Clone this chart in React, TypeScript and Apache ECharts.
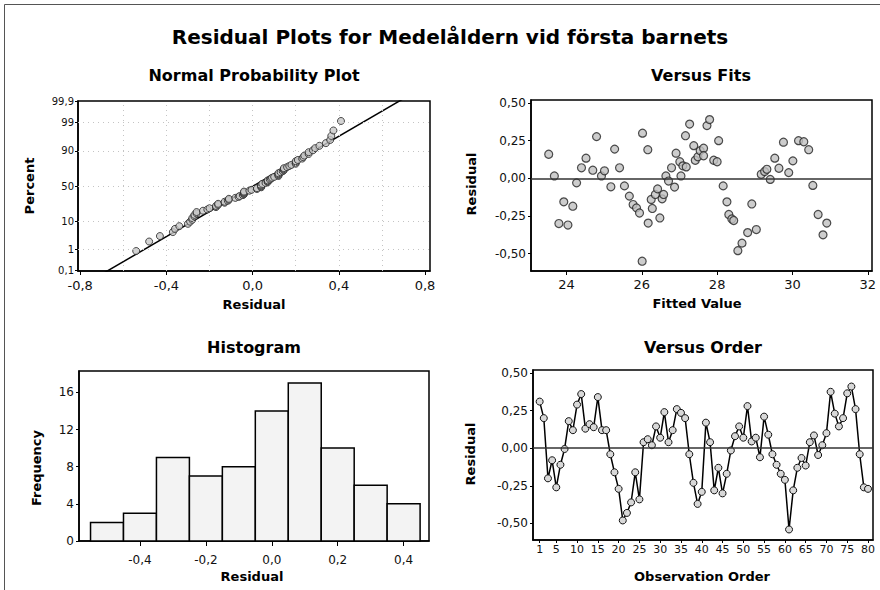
import React, { useEffect, useRef } from "react";
import * as echarts from "echarts";

// ---------- DATA ----------
const residualsByOrder: number[] = [
  0.31, 0.2, -0.2, -0.08, -0.26, -0.11, -0.005, 0.18, 0.12, 0.29,
  0.36, 0.13, 0.16, 0.14, 0.34, 0.12, 0.12, -0.04, -0.16, -0.27,
  -0.48, -0.43, -0.36, -0.16, -0.34, 0.04, 0.06, 0.02, 0.145, 0.07,
  0.24, 0.04, 0.12, 0.26, 0.235, 0.2, -0.04, -0.23, -0.37, -0.29,
  0.17, 0.04, -0.28, -0.13, -0.3, -0.17, -0.015, 0.08, 0.145, 0.07,
  0.28, 0.045, 0.07, -0.06, 0.21, 0.09, -0.04, -0.11, -0.17, -0.21,
  -0.54, -0.28, -0.13, -0.065, -0.115, 0.04, 0.085, -0.045, 0.02, 0.1,
  0.375, 0.23, 0.145, 0.2, 0.365, 0.41, 0.26, -0.04, -0.26, -0.27,
];

const fittedValues: number[] = [
  23.53, 23.68, 23.8, 23.93, 24.04, 24.17, 24.27, 24.4, 24.52, 24.7,
  24.8, 24.93, 25.01, 25.18, 25.28, 25.41, 25.54, 25.67, 25.77, 25.86,
  25.94, 26.01, 26.02, 26.16, 26.17, 26.25, 26.28, 26.36, 26.42, 26.48,
  26.54, 26.58, 26.64, 26.71, 26.79, 26.87, 26.91, 27.01, 27.04, 27.09,
  27.16, 27.18, 27.27, 27.38, 27.42, 27.49, 27.55, 27.64, 27.64, 27.73,
  27.8, 27.91, 28.0, 28.04, 28.16, 28.26, 28.31, 28.39, 28.44, 28.55,
  28.66, 28.81, 28.92, 29.04, 29.17, 29.26, 29.32, 29.41, 29.53, 29.64,
  29.76, 29.9, 30.01, 30.16, 30.3, 30.43, 30.54, 30.68, 30.81, 30.91,
];
const fitsResiduals: number[] = [
  0.16, 0.016, -0.3, -0.156, -0.31, -0.185, -0.03, 0.07, 0.134, 0.054,
  0.277, 0.016, 0.05, -0.056, 0.194, 0.07, -0.05, -0.118, -0.174, -0.196,
  -0.23, -0.55, 0.3, 0.19, -0.297, -0.14, -0.2, -0.107, -0.07, -0.263,
  -0.136, -0.107, 0.016, -0.018, 0.07, -0.058, 0.167, 0.11, 0.016, 0.083,
  0.283, 0.076, 0.36, 0.217, 0.12, 0.143, 0.183, 0.2, 0.15, 0.35,
  0.39, 0.12, 0.11, 0.25, -0.05, -0.156, -0.24, -0.27, -0.28, -0.48,
  -0.43, -0.36, -0.17, -0.34, 0.027, 0.045, 0.06, -0.007, 0.134, 0.067,
  0.24, 0.038, 0.116, 0.25, 0.243, 0.19, -0.047, -0.24, -0.375, -0.297,
];

const histBinCenters: number[] = [-0.5, -0.4, -0.3, -0.2, -0.1, 0.0, 0.1, 0.2, 0.3, 0.4];
const histCounts: number[] = [2, 3, 9, 7, 8, 14, 17, 10, 6, 4];

const nppPercentTicks: number[] = [0.1, 1, 10, 50, 90, 99, 99.9];
const nppPercentLabels: string[] = ["0,1", "1", "10", "50", "90", "99", "99,9"];
const nppGridPercents: number[] = [1, 10, 50, 90, 99];
const nppGridX: number[] = [-0.6, -0.4, -0.2, 0, 0.2, 0.4, 0.6];
const nppXTicks: number[] = [-0.8, -0.4, 0, 0.4, 0.8];
const residualTicks: number[] = [-0.5, -0.25, 0, 0.25, 0.5];
const fitsXTicks: number[] = [24, 26, 28, 30, 32];
const histXTicks: number[] = [-0.4, -0.2, 0, 0.2, 0.4];
const histYTicks: number[] = [0, 4, 8, 12, 16];
const orderTicks: number[] = [1, 5, 10, 15, 20, 25, 30, 35, 40, 45, 50, 55, 60, 65, 70, 75, 80];

const mainTitle = "Residual Plots for Medelåldern vid första barnets";

// ---------- helpers ----------
function invNorm(p: number): number {
  const a = [-3.969683028665376e1, 2.209460984245205e2, -2.759285104469687e2, 1.38357751867269e2, -3.066479806614716e1, 2.506628277459239];
  const b = [-5.447609879822406e1, 1.615858368580409e2, -1.556989798598866e2, 6.680131188771972e1, -1.328068155288572e1];
  const c = [-7.784894002430293e-3, -3.223964580411365e-1, -2.400758277161838, -2.549732539343734, 4.374664141464968, 2.938163982698783];
  const d = [7.784695709041462e-3, 3.224671290700398e-1, 2.445134137142996, 3.754408661907416];
  const pl = 0.02425;
  if (p < pl) {
    const q = Math.sqrt(-2 * Math.log(p));
    return (((((c[0] * q + c[1]) * q + c[2]) * q + c[3]) * q + c[4]) * q + c[5]) / ((((d[0] * q + d[1]) * q + d[2]) * q + d[3]) * q + 1);
  }
  if (p > 1 - pl) {
    const q = Math.sqrt(-2 * Math.log(1 - p));
    return -(((((c[0] * q + c[1]) * q + c[2]) * q + c[3]) * q + c[4]) * q + c[5]) / ((((d[0] * q + d[1]) * q + d[2]) * q + d[3]) * q + 1);
  }
  const q = p - 0.5;
  const r = q * q;
  return ((((((a[0] * r + a[1]) * r + a[2]) * r + a[3]) * r + a[4]) * r + a[5]) * q) / (((((b[0] * r + b[1]) * r + b[2]) * r + b[3]) * r + b[4]) * r + 1);
}

const comma = (v: number, d: number) => v.toFixed(d).replace(".", ",");
const FONT = "DejaVu Sans";

function valueAxis(gridIndex: number, min: number, max: number, ticks: number[], fmt: (v: number) => string, fontSize: number, margin: number, tickLen: number) {
  return {
    type: "value",
    gridIndex,
    min,
    max,
    axisLine: { show: true, onZero: false, lineStyle: { color: "#000", width: 1.5 } },
    axisTick: { show: true, inside: false, length: tickLen, customValues: ticks, lineStyle: { color: "#000", width: 1 } },
    axisLabel: { show: true, customValues: ticks, formatter: (v: number) => fmt(v), fontSize, margin, color: "#111", fontFamily: FONT },
    splitLine: { show: false },
  };
}

function txt(text: string, x: number, y: number, fontSize: number, rotate = false) {
  return {
    type: "text",
    x,
    y,
    rotation: rotate ? Math.PI / 2 : 0,
    silent: true,
    style: {
      text,
      fontSize,
      fontWeight: "bold",
      fontFamily: FONT,
      fill: "#000",
      align: "center",
      verticalAlign: "middle",
      textAlign: "center",
      textVerticalAlign: "middle",
    },
  };
}

export default function App() {
  const ref = useRef<HTMLDivElement>(null);

  useEffect(() => {
    if (!ref.current) return;
    const chart = echarts.init(ref.current, undefined, { renderer: "svg" });

    const n = residualsByOrder.length;
    const sorted = [...residualsByOrder].sort((a, b) => a - b);
    const nppData = sorted.map((r, i) => [r, invNorm((i + 1 - 0.3) / (n + 0.4))]);
    const mean = residualsByOrder.reduce((s, v) => s + v, 0) / n;
    const sd = Math.sqrt(residualsByOrder.reduce((s, v) => s + (v - mean) * (v - mean), 0) / (n - 1));
    const zLine = 3.4;
    const nppLine = [[mean - sd * zLine, -zLine], [mean + sd * zLine, zLine]];
    const nppZTicks = nppPercentTicks.map((p) => invNorm(p / 100));
    const nppLabelFor = (v: number) => {
      let best = 0;
      nppZTicks.forEach((z, i) => { if (Math.abs(z - v) < Math.abs(nppZTicks[best] - v)) best = i; });
      return nppPercentLabels[best];
    };
    const zMax = invNorm(0.999) * 1.006;

    const binWidth = histBinCenters[1] - histBinCenters[0];
    const dotted = { color: "#c4c4c4", width: 1, type: [1, 4] as any };

    const zeroLine = {
      silent: true,
      symbol: "none",
      label: { show: false },
      lineStyle: { color: "#333", width: 1.5, type: "solid" },
      data: [{ yAxis: 0 }],
    };

    const gridStyle = { show: true, borderColor: "#000", borderWidth: 1.5, backgroundColor: "#fff" };

    const option: any = {
      animation: false,
      backgroundColor: "#fff",
      textStyle: { fontFamily: FONT },
      grid: [
        { left: 78, top: 101, width: 352, height: 170, ...gridStyle },
        { left: 531, top: 100, width: 341, height: 171, ...gridStyle },
        { left: 79, top: 371, width: 350, height: 170, ...gridStyle },
        { left: 533, top: 370, width: 340, height: 170, ...gridStyle },
      ],
      xAxis: [
        valueAxis(0, -0.81, 0.823, nppXTicks, (v) => comma(v, 1), 13, 8, 4),
        valueAxis(1, 23.06, 32.11, fitsXTicks, (v) => String(Math.round(v)), 13, 7, 4),
        valueAxis(2, -0.585, 0.477, histXTicks, (v) => comma(v, 1), 12, 13, 5),
        valueAxis(3, -0.6, 81.2, orderTicks, (v) => String(Math.round(v)), 11, 4, 3),
      ],
      yAxis: [
        valueAxis(0, -zMax, zMax, nppZTicks, nppLabelFor, 10, 4, 3),
        valueAxis(1, -0.615, 0.52, residualTicks, (v) => comma(v, 2), 12, 5, 3),
        valueAxis(2, 0, 18.3, histYTicks, (v) => String(Math.round(v)), 12, 5, 3),
        valueAxis(3, -0.61, 0.52, residualTicks, (v) => comma(v, 2), 12, 5, 3),
      ],
      series: [
        {
          type: "line",
          xAxisIndex: 0,
          yAxisIndex: 0,
          data: nppLine,
          symbol: "none",
          clip: true,
          lineStyle: { color: "#000", width: 1.5 },
          z: 2,
          markLine: {
            silent: true,
            symbol: "none",
            label: { show: false },
            lineStyle: dotted,
            data: [
              ...nppGridPercents.map((p) => ({ yAxis: invNorm(p / 100) })),
              ...nppGridX.map((x) => ({ xAxis: x })),
            ],
          },
        },
        {
          type: "scatter",
          xAxisIndex: 0,
          yAxisIndex: 0,
          data: nppData,
          symbol: "circle",
          symbolSize: 7,
          itemStyle: { color: "#c8c8c8", borderColor: "#222", borderWidth: 1 },
          z: 3,
        },
        {
          type: "scatter",
          xAxisIndex: 1,
          yAxisIndex: 1,
          data: fittedValues.map((f, i) => [f, fitsResiduals[i]]),
          symbol: "circle",
          symbolSize: 8,
          itemStyle: { color: "#c0c0c0", borderColor: "#222", borderWidth: 1.2 },
          markLine: zeroLine,
          z: 3,
        },
        {
          type: "custom",
          xAxisIndex: 2,
          yAxisIndex: 2,
          data: histBinCenters.map((c, i) => [c, histCounts[i]]),
          encode: { x: 0, y: 1 },
          renderItem: (_params: any, api: any) => {
            const c = api.value(0);
            const cnt = api.value(1);
            const p0 = api.coord([c - binWidth / 2, cnt]);
            const p1 = api.coord([c + binWidth / 2, 0]);
            return {
              type: "rect",
              shape: { x: p0[0], y: p0[1], width: p1[0] - p0[0], height: p1[1] - p0[1] },
              style: { fill: "#f3f3f3", stroke: "#000", lineWidth: 1.5 },
            };
          },
        },
        {
          type: "line",
          xAxisIndex: 3,
          yAxisIndex: 3,
          data: residualsByOrder.map((r, i) => [i + 1, r]),
          symbol: "circle",
          symbolSize: 7,
          showAllSymbol: true,
          lineStyle: { color: "#000", width: 1.5 },
          itemStyle: { color: "#d8d8d8", borderColor: "#111", borderWidth: 1 },
          markLine: zeroLine,
          z: 3,
        },
      ],
      graphic: [
        { type: "rect", silent: true, shape: { x: 4.5, y: 4.5, width: 900, height: 700 }, style: { fill: "none", stroke: "#555", lineWidth: 1 } },
        txt(mainTitle, 450, 37, 20),
        txt("Normal Probability Plot", 254, 75, 16),
        txt("Versus Fits", 701, 75, 16),
        txt("Histogram", 254, 347, 16),
        txt("Versus Order", 703, 347, 16),
        txt("Percent", 29, 186, 13, true),
        txt("Residual", 254, 304, 13),
        txt("Residual", 471, 184, 13, true),
        txt("Fitted Value", 697, 303, 13),
        txt("Frequency", 36, 468, 13, true),
        txt("Residual", 252, 576, 13),
        txt("Residual", 470, 454, 13, true),
        txt("Observation Order", 702, 576, 13),
      ],
    };

    chart.setOption(option);
    return () => chart.dispose();
  }, []);

  return (
    <div
      ref={ref}
      style={{ position: "fixed", left: 0, top: 0, width: 880, height: 590, background: "#fff" }}
    />
  );
}
